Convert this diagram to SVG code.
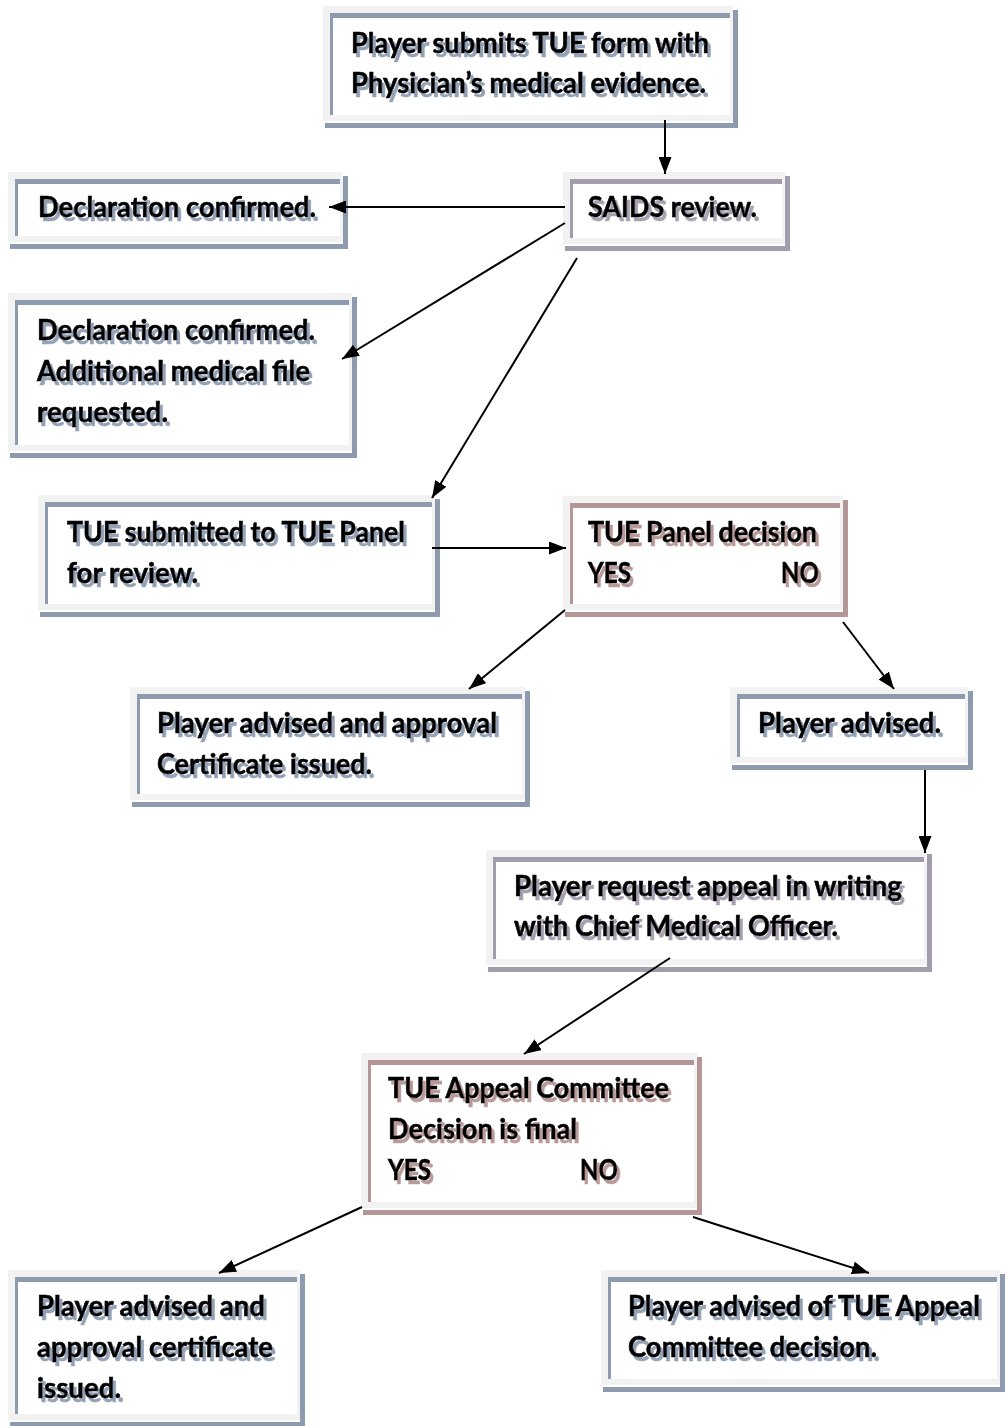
<svg xmlns="http://www.w3.org/2000/svg" width="1005" height="1426" viewBox="0 0 1005 1426">
<style>
.lt{fill:#f2f2f2}
.wh{fill:#ffffff}
.bl{fill:#8e9bae}
.pu{fill:#a39cac}
.ro{fill:#b59696}
text{font-family:Lato,"Liberation Sans",sans-serif;font-weight:bold;font-size:29px;fill:#000000;stroke:#000000;stroke-width:0.6}
.sb{filter:url(#fsb)}
.sp{filter:url(#fsp)}
.sr{filter:url(#fsr)}
.cn{stroke:#000000;stroke-width:2;fill:none;marker-end:url(#ah)}
</style>
<defs>
<marker id="ah" markerUnits="userSpaceOnUse" markerWidth="17" markerHeight="13" refX="17" refY="6.5" orient="auto">
<path d="M0,0 L17,6.5 L0,13 z" fill="#000000"/>
</marker>
<filter id="fsb" x="-5%" y="-40%" width="115%" height="190%">
<feFlood flood-color="#95a2b6"/>
<feComposite in2="SourceAlpha" operator="in"/>
<feOffset dx="3" dy="4" result="s"/>
<feMerge><feMergeNode in="s"/><feMergeNode in="SourceGraphic"/></feMerge>
</filter>
<filter id="fsp" x="-5%" y="-40%" width="115%" height="190%">
<feFlood flood-color="#a7a0b0"/>
<feComposite in2="SourceAlpha" operator="in"/>
<feOffset dx="3" dy="4" result="s"/>
<feMerge><feMergeNode in="s"/><feMergeNode in="SourceGraphic"/></feMerge>
</filter>
<filter id="fsr" x="-5%" y="-40%" width="115%" height="190%">
<feFlood flood-color="#b89a9a"/>
<feComposite in2="SourceAlpha" operator="in"/>
<feOffset dx="3" dy="4" result="s"/>
<feMerge><feMergeNode in="s"/><feMergeNode in="SourceGraphic"/></feMerge>
</filter>
</defs>
<rect width="1005" height="1426" fill="#ffffff"/>

<g id="n-submit">
<rect class="lt" x="323" y="6" width="410" height="115"/>
<rect class="wh" x="333" y="18" width="397" height="97"/>
<rect class="bl" x="330" y="13" width="400" height="5"/>
<rect class="bl" x="330" y="13" width="3" height="102"/>
<rect class="bl" x="733" y="10" width="5" height="118"/>
<rect class="bl" x="325" y="123" width="413" height="5"/>
<text class="sb" x="351" y="53" textLength="358" lengthAdjust="spacingAndGlyphs">Player submits TUE form with</text>
<text class="sb" x="351" y="93" textLength="355" lengthAdjust="spacingAndGlyphs">Physician’s medical evidence.</text>
</g>

<g id="n-saids">
<rect class="lt" x="563" y="172" width="222" height="72"/>
<rect class="wh" x="573" y="184" width="209" height="54"/>
<rect class="pu" x="570" y="179" width="212" height="5"/>
<rect class="pu" x="570" y="179" width="3" height="59"/>
<rect class="pu" x="785" y="176" width="5" height="75"/>
<rect class="pu" x="565" y="246" width="225" height="5"/>
<text class="sp" x="588" y="217" textLength="169" lengthAdjust="spacingAndGlyphs">SAIDS review.</text>
</g>

<g id="n-declared">
<rect class="lt" x="8" y="172" width="335" height="70"/>
<rect class="wh" x="18" y="184" width="322" height="52"/>
<rect class="bl" x="15" y="179" width="325" height="5"/>
<rect class="bl" x="15" y="179" width="3" height="57"/>
<rect class="bl" x="343" y="176" width="5" height="73"/>
<rect class="bl" x="10" y="244" width="338" height="5"/>
<text class="sb" x="38" y="217" textLength="278" lengthAdjust="spacingAndGlyphs">Declaration confirmed.</text>
</g>

<g id="n-additional">
<rect class="lt" x="8" y="293" width="344" height="158"/>
<rect class="wh" x="18" y="305" width="331" height="140"/>
<rect class="bl" x="15" y="300" width="334" height="5"/>
<rect class="bl" x="15" y="300" width="3" height="145"/>
<rect class="bl" x="352" y="297" width="5" height="161"/>
<rect class="bl" x="10" y="453" width="347" height="5"/>
<text class="sb" x="37" y="340" textLength="278" lengthAdjust="spacingAndGlyphs">Declaration confirmed.</text>
<text class="sb" x="37" y="381" textLength="273" lengthAdjust="spacingAndGlyphs">Additional medical file</text>
<text class="sb" x="37" y="422" textLength="131" lengthAdjust="spacingAndGlyphs">requested.</text>
</g>

<g id="n-submitted">
<rect class="lt" x="38" y="495" width="397" height="115"/>
<rect class="wh" x="48" y="507" width="384" height="97"/>
<rect class="bl" x="45" y="502" width="387" height="5"/>
<rect class="bl" x="45" y="502" width="3" height="102"/>
<rect class="bl" x="435" y="499" width="5" height="118"/>
<rect class="bl" x="40" y="612" width="400" height="5"/>
<text class="sb" x="67" y="542" textLength="338" lengthAdjust="spacingAndGlyphs">TUE submitted to TUE Panel</text>
<text class="sb" x="67" y="583" textLength="131" lengthAdjust="spacingAndGlyphs">for review.</text>
</g>

<g id="n-panel">
<rect class="lt" x="563" y="496" width="280" height="114"/>
<rect class="wh" x="573" y="508" width="267" height="96"/>
<rect class="ro" x="570" y="503" width="270" height="5"/>
<rect class="ro" x="570" y="503" width="3" height="101"/>
<rect class="ro" x="843" y="500" width="5" height="117"/>
<rect class="ro" x="565" y="612" width="283" height="5"/>
<text class="sr" x="588" y="542" textLength="229" lengthAdjust="spacingAndGlyphs">TUE Panel decision</text>
<text class="sr" x="588" y="583" textLength="43" lengthAdjust="spacingAndGlyphs">YES</text>
<text class="sr" x="781" y="583" textLength="38" lengthAdjust="spacingAndGlyphs">NO</text>
</g>

<g id="n-approved">
<rect class="lt" x="130" y="687" width="395" height="113"/>
<rect class="wh" x="140" y="699" width="382" height="95"/>
<rect class="bl" x="137" y="694" width="385" height="5"/>
<rect class="bl" x="137" y="694" width="3" height="100"/>
<rect class="bl" x="525" y="691" width="5" height="116"/>
<rect class="bl" x="132" y="802" width="398" height="5"/>
<text class="sb" x="157" y="733" textLength="340" lengthAdjust="spacingAndGlyphs">Player advised and approval</text>
<text class="sb" x="157" y="774" textLength="215" lengthAdjust="spacingAndGlyphs">Certificate issued.</text>
</g>

<g id="n-advised">
<rect class="lt" x="730" y="687" width="238" height="76"/>
<rect class="wh" x="740" y="699" width="225" height="58"/>
<rect class="bl" x="737" y="694" width="228" height="5"/>
<rect class="bl" x="737" y="694" width="3" height="63"/>
<rect class="bl" x="968" y="691" width="5" height="79"/>
<rect class="bl" x="732" y="765" width="241" height="5"/>
<text class="sb" x="758" y="733" textLength="183" lengthAdjust="spacingAndGlyphs">Player advised.</text>
</g>

<g id="n-appeal-request">
<rect class="lt" x="486" y="850" width="441" height="115"/>
<rect class="wh" x="496" y="862" width="428" height="97"/>
<rect class="pu" x="493" y="857" width="431" height="5"/>
<rect class="pu" x="493" y="857" width="3" height="102"/>
<rect class="pu" x="927" y="854" width="5" height="118"/>
<rect class="pu" x="488" y="967" width="444" height="5"/>
<text class="sp" x="514" y="896" textLength="388" lengthAdjust="spacingAndGlyphs">Player request appeal in writing</text>
<text class="sp" x="514" y="936" textLength="324" lengthAdjust="spacingAndGlyphs">with Chief Medical Officer.</text>
</g>

<g id="n-committee">
<rect class="lt" x="361" y="1053" width="336" height="155"/>
<rect class="wh" x="371" y="1065" width="323" height="137"/>
<rect class="ro" x="368" y="1060" width="326" height="5"/>
<rect class="ro" x="368" y="1060" width="3" height="142"/>
<rect class="ro" x="697" y="1057" width="5" height="158"/>
<rect class="ro" x="363" y="1210" width="339" height="5"/>
<text class="sr" x="388" y="1098" textLength="281" lengthAdjust="spacingAndGlyphs">TUE Appeal Committee</text>
<text class="sr" x="388" y="1139" textLength="189" lengthAdjust="spacingAndGlyphs">Decision is final</text>
<text class="sr" x="388" y="1180" textLength="43" lengthAdjust="spacingAndGlyphs">YES</text>
<text class="sr" x="580" y="1180" textLength="38" lengthAdjust="spacingAndGlyphs">NO</text>
</g>

<g id="n-certificate">
<rect class="lt" x="8" y="1270" width="292" height="150"/>
<rect class="wh" x="18" y="1282" width="279" height="132"/>
<rect class="bl" x="15" y="1277" width="282" height="5"/>
<rect class="bl" x="15" y="1277" width="3" height="137"/>
<rect class="bl" x="300" y="1274" width="5" height="153"/>
<rect class="bl" x="10" y="1422" width="295" height="5"/>
<text class="sb" x="37" y="1316" textLength="228" lengthAdjust="spacingAndGlyphs">Player advised and</text>
<text class="sb" x="37" y="1357" textLength="236" lengthAdjust="spacingAndGlyphs">approval certificate</text>
<text class="sb" x="37" y="1398" textLength="84" lengthAdjust="spacingAndGlyphs">issued.</text>
</g>

<g id="n-committee-decision">
<rect class="lt" x="601" y="1270" width="399" height="115"/>
<rect class="wh" x="611" y="1282" width="386" height="97"/>
<rect class="bl" x="608" y="1277" width="389" height="5"/>
<rect class="bl" x="608" y="1277" width="3" height="102"/>
<rect class="bl" x="1000" y="1274" width="5" height="118"/>
<rect class="bl" x="603" y="1387" width="402" height="5"/>
<text class="sb" x="628" y="1316" textLength="352" lengthAdjust="spacingAndGlyphs">Player advised of TUE Appeal</text>
<text class="sb" x="628" y="1357" textLength="249" lengthAdjust="spacingAndGlyphs">Committee decision.</text>
</g>

<g id="connectors">
<path class="cn" d="M665,120 L665,174"/>
<path class="cn" d="M565,207 L329,207"/>
<path class="cn" d="M565,223 L342,359"/>
<path class="cn" d="M577,258 L432,498"/>
<path class="cn" d="M432,548 L566,548"/>
<path class="cn" d="M565,610 L469,689"/>
<path class="cn" d="M843,622 L894,689"/>
<path class="cn" d="M925,770 L925,853"/>
<path class="cn" d="M670,958 L524,1054"/>
<path class="cn" d="M362,1207 L219,1273"/>
<path class="cn" d="M693,1217 L869,1273"/>
</g>
</svg>
